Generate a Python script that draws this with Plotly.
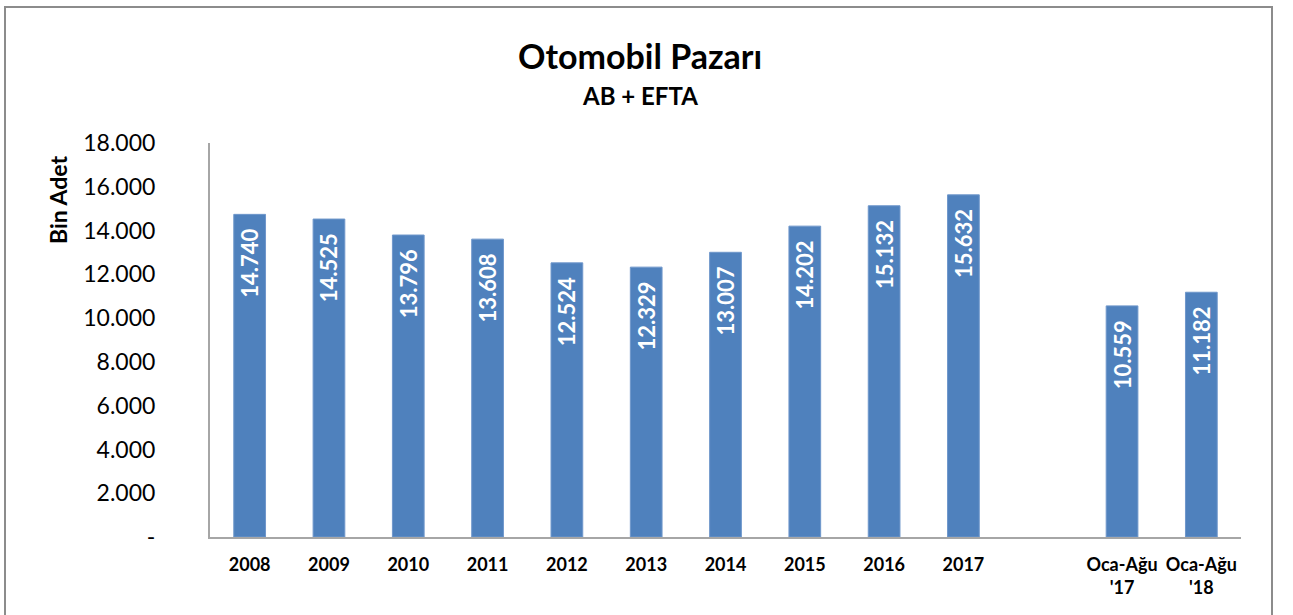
import plotly.graph_objects as go

categories = ["2008", "2009", "2010", "2011", "2012", "2013", "2014", "2015", "2016", "2017",
              " ", "Oca-Ağu<br>'17", "Oca-Ağu<br>'18"]
values = [14740, 14525, 13796, 13608, 12524, 12329, 13007, 14202, 15132, 15632,
          None, 10559, 11182]
tick_vals = [0, 2000, 4000, 6000, 8000, 10000, 12000, 14000, 16000, 18000]
tick_text = ["-", "2.000", "4.000", "6.000", "8.000", "10.000", "12.000", "14.000", "16.000", "18.000"]

FONT = "Lato"

W, H = 1293, 615
L = 210
T = 143
R = W - 1241
B = H - 537
pw, ph = W - L - R, H - T - B

def px2x(p):
    return (p - L) / pw

def py2y(p):
    return (H - B - p) / ph

fig = go.Figure(go.Bar(
    x=categories, y=values,
    marker=dict(color="#4F81BD", line=dict(color="#6F97CB", width=1)),
    texttemplate="<b>%{y:,.0f}</b>\u00a0\u00a0",
    textposition="inside", insidetextanchor="end", textangle=-90,
    textfont=dict(color="white", size=22, family=FONT),
    constraintext="none",
    cliponaxis=False,
))

fig.update_layout(
    width=W, height=H,
    margin=dict(l=L, r=R, t=T, b=B),
    separators=",.",
    paper_bgcolor="white", plot_bgcolor="white",
    font=dict(family=FONT, color="black"),
    bargap=0.6,
    showlegend=False,
    xaxis=dict(type="category", showline=True, linecolor="#A6A6A6", linewidth=2,
               showgrid=False, ticks="", tickfont=dict(size=18, family=FONT, weight="bold"),
               tickangle=0, ticklabelstandoff=10),
    yaxis=dict(range=[0, 18000], tickvals=tick_vals, ticktext=tick_text,
               showline=True, linecolor="#A6A6A6", linewidth=2, showgrid=False,
               ticks="", tickfont=dict(size=23, family=FONT), ticklabelstandoff=48,
               zeroline=False),
    annotations=[
        dict(text="<b>Otomobil Pazarı</b>", x=px2x(640), y=py2y(55), xref="paper", yref="paper",
             showarrow=False, font=dict(size=34, family=FONT), xanchor="center", yanchor="middle"),
        dict(text="<b>AB + EFTA</b>", x=px2x(640), y=py2y(96), xref="paper", yref="paper",
             showarrow=False, font=dict(size=24, family=FONT), xanchor="center", yanchor="middle"),
        dict(text="<b>Bin Adet</b>", x=px2x(58), y=py2y(200), xref="paper", yref="paper",
             showarrow=False, textangle=-90, font=dict(size=23, family=FONT),
             xanchor="center", yanchor="middle"),
    ],
    shapes=[
        dict(type="rect", xref="paper", yref="paper",
             x0=px2x(5), x1=px2x(1272), y0=py2y(630), y1=py2y(7),
             line=dict(color="#8C8C8C", width=2), fillcolor="rgba(0,0,0,0)", layer="below"),
    ],
)

fig.write_html("out.html", config={"displayModeBar": False},
               post_script="document.body.style.margin='0px';")
